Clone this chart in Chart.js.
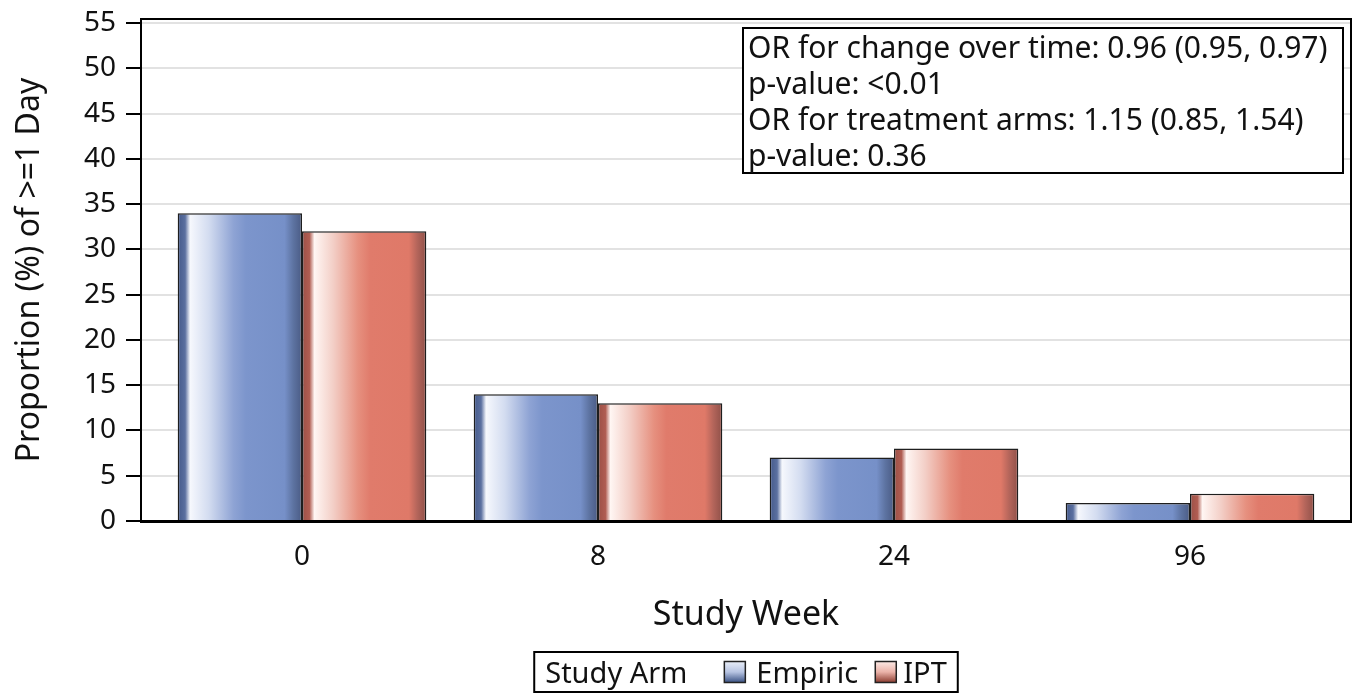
<!DOCTYPE html>
<html>
<head>
<meta charset="utf-8">
<script src="https://cdn.jsdelivr.net/npm/chart.js@4"></script>
<style>
  html, body { margin: 0; padding: 0; background: #fff; }
  #wrap { width: 1362px; height: 694px; }
</style>
</head>
<body>
<div id="wrap"><canvas id="chart" width="1362" height="694"></canvas></div>
<script>
const weeks = ['0', '8', '24', '96'];
const empiric = [34, 14, 7, 2];
const ipt = [32, 13, 8, 3];
const seriesNames = ['Empiric', 'IPT'];
const statLines = [
  'OR for change over time: 0.96 (0.95, 0.97)',
  'p-value: <0.01',
  'OR for treatment arms: 1.15 (0.85, 1.54)',
  'p-value: 0.36'
];

const FONT = '"Noto Sans", "DejaVu Sans", sans-serif';
const CAT_PCT = 0.84;
const X_INSET = 13; // extra space at both ends of the category axis

// colour stops across one bar, left to right
const blueStops = [[0, '#44598a'], [0.06, '#5b70a0'], [0.1, '#f6f8fd'], [0.25, '#d3dcf0'], [0.45, '#8ea3d4'], [0.55, '#7c95cc'], [0.86, '#7690c8'], [0.93, '#5d73a1'], [1, '#4a5b85']];
const redStops = [[0, '#9c5046'], [0.06, '#b05d52'], [0.1, '#fff6f3'], [0.25, '#f3cfc7'], [0.45, '#e6907f'], [0.55, '#e07b6b'], [0.86, '#df7968'], [0.93, '#b2645a'], [1, '#8f5048']];

function barFill(stops, dsIndex) {
  return function (c) {
    const chart = c.chart;
    const xs = chart.scales.x;
    if (!xs || c.type !== 'data') return stops[5][1];
    const step = xs.getPixelForValue(1) - xs.getPixelForValue(0);
    const half = step * CAT_PCT / 2;
    const center = xs.getPixelForValue(c.dataIndex);
    if (!isFinite(center) || !isFinite(half) || half <= 0) return stops[5][1];
    const left = dsIndex === 0 ? center - half : center;
    const g = chart.ctx.createLinearGradient(left, 0, left + half, 0);
    stops.forEach(s => g.addColorStop(s[0], s[1]));
    return g;
  };
}

const xInset = {
  id: 'xInset',
  afterLayout(chart) {
    const xs = chart.scales.x;
    xs._startPixel += X_INSET;
    xs._length -= 2 * X_INSET;
  }
};

// frame on top and right, the stats box and the legend
const extras = {
  id: 'extras',
  afterDraw(chart) {
    const ctx = chart.ctx;
    const a = chart.chartArea;
    ctx.save();
    ctx.strokeStyle = '#000';
    ctx.lineWidth = 2;
    ctx.beginPath();
    ctx.moveTo(a.left, a.top);
    ctx.lineTo(a.right, a.top);
    ctx.lineTo(a.right, a.bottom);
    ctx.stroke();

    // stats box
    const bx = 743, by = 28, bw = a.right - 8 - bx, bh = 145;
    ctx.fillStyle = '#fff';
    ctx.fillRect(bx, by, bw, bh);
    ctx.strokeRect(bx, by, bw, bh);
    ctx.font = '30px ' + FONT;
    ctx.fillStyle = '#111';
    ctx.textBaseline = 'alphabetic';
    statLines.forEach((t, i) => ctx.fillText(t, bx + 5, 58 + i * 36));

    // legend
    ctx.font = '29px ' + FONT;
    const sw = 21;
    const parts = [
      { text: 'Study Arm', gapAfter: 37 },
      { swatch: 0, gapAfter: 11 }, { text: seriesNames[0], gapAfter: 17 },
      { swatch: 1, gapAfter: 7 }, { text: seriesNames[1], gapAfter: 0 }
    ];
    let total = 0;
    parts.forEach(p => {
      if (p.swatch !== undefined) total += sw + p.gapAfter;
      else total += ctx.measureText(p.text).width + p.gapAfter;
    });
    const pad = 11;
    const lx = (a.left + a.right) / 2 - total / 2 - pad;
    const ly = 652, lh = 40;
    ctx.lineWidth = 2;
    ctx.strokeStyle = '#000';
    ctx.strokeRect(lx, ly, total + 2 * pad, lh);
    let x = lx + pad;
    const cy = ly + lh / 2;
    parts.forEach(p => {
      if (p.swatch !== undefined) {
        const g = ctx.createLinearGradient(0, cy - sw / 2, 0, cy + sw / 2);
        if (p.swatch === 0) { g.addColorStop(0, '#e9eef8'); g.addColorStop(0.5, '#b7c4e2'); g.addColorStop(1, '#3a5284'); }
        else { g.addColorStop(0, '#fbe9e5'); g.addColorStop(0.5, '#eab2a8'); g.addColorStop(1, '#8c3c30'); }
        ctx.fillStyle = g;
        ctx.fillRect(x, cy - sw / 2, sw, sw);
        ctx.lineWidth = 1.5;
        ctx.strokeStyle = '#222';
        ctx.strokeRect(x, cy - sw / 2, sw, sw);
        x += sw + p.gapAfter;
      } else {
        ctx.fillStyle = '#111';
        ctx.textBaseline = 'alphabetic';
        ctx.fillText(p.text, x, cy + 11);
        x += ctx.measureText(p.text).width + p.gapAfter;
      }
    });
    ctx.restore();
  }
};

new Chart(document.getElementById('chart'), {
  type: 'bar',
  data: {
    labels: weeks,
    datasets: [
      { label: seriesNames[0], data: empiric, backgroundColor: barFill(blueStops, 0), borderColor: '#1e1e1e', borderWidth: 1.5 },
      { label: seriesNames[1], data: ipt, backgroundColor: barFill(redStops, 1), borderColor: '#1e1e1e', borderWidth: 1.5 }
    ]
  },
  plugins: [xInset, extras],
  options: {
    responsive: false,
    animation: false,
    datasets: { bar: { categoryPercentage: CAT_PCT, barPercentage: 1 } },
    layout: { padding: { top: 19, right: 11, bottom: 49, left: 0 } },
    plugins: { legend: { display: false }, tooltip: { enabled: false } },
    scales: {
      x: {
        grid: { display: false, drawTicks: false },
        border: { color: '#000', width: 3 },
        ticks: { color: '#111', font: { family: FONT, size: 28 }, padding: 19 },
        title: { display: true, text: 'Study Week', color: '#111', font: { family: FONT, size: 34 }, padding: { top: 4, bottom: 9 } },
        afterFit(s) { s.height = 124; s.paddingLeft = 0; s.paddingRight = 0; }
      },
      y: {
        min: 0, max: 55.44,
        ticks: { stepSize: 5, includeBounds: false, color: '#111', font: { family: FONT, size: 28 }, padding: 10 },
        grid: { color: '#e2e2e2', lineWidth: 2, tickColor: '#000', tickLength: 15, tickWidth: 2 },
        border: { color: '#000', width: 2 },
        title: { display: true, text: 'Proportion (%) of >=1 Day', color: '#111', font: { family: FONT, size: 32 }, padding: { top: 11, bottom: 11 } },
        afterFit(s) { s.width = 141; s.paddingTop = 0; s.paddingBottom = 0; }
      }
    }
  }
});
</script>
</body>
</html>
